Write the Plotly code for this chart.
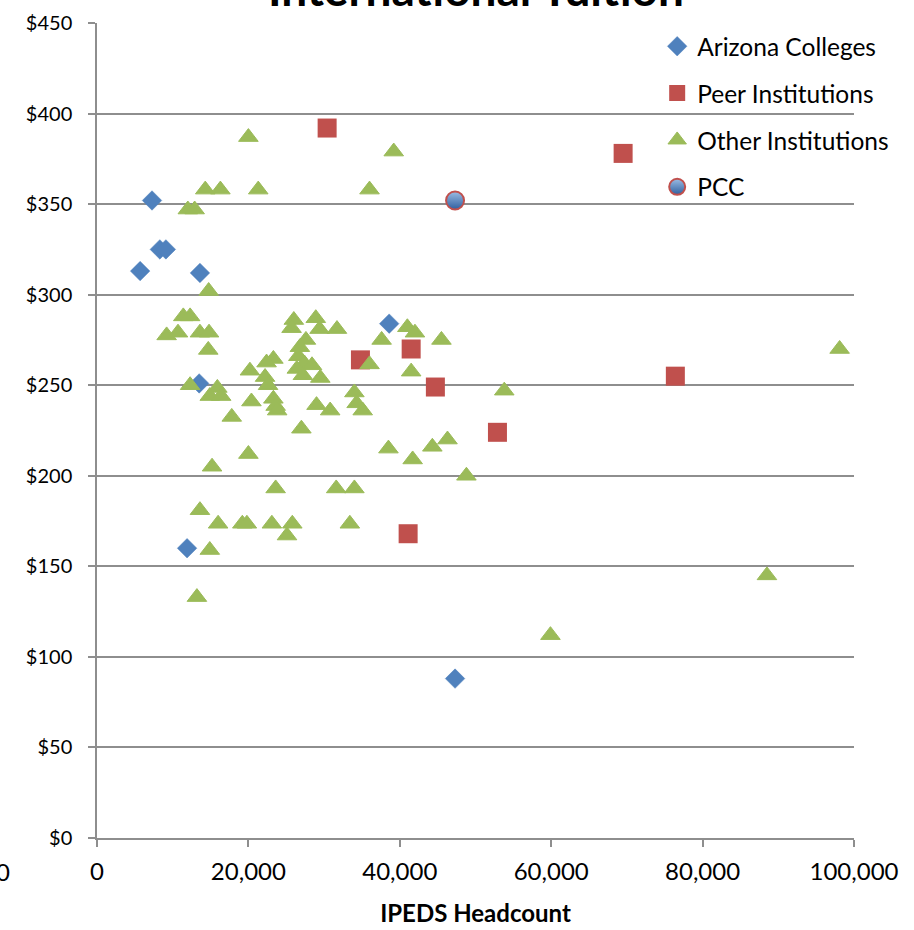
import plotly.graph_objects as go

# ---------------- data ----------------
az_x = [7270, 5700, 8300, 9100, 13600, 38600, 13500, 11900, 47300]
az_y = [352, 313, 325, 325, 312, 284, 251, 160, 88]

peer_x = [30400, 69500, 34800, 41500, 44700, 52900, 76400, 41100]
peer_y = [392, 378, 264, 270, 249, 224, 255, 168]

other_x = [20000, 39200, 14300, 16300, 21300, 36000, 12000, 12900, 14750, 11400,
           12300, 9200, 10700, 13600, 14800, 14700, 26000, 25700, 28900, 29400,
           31700, 27600, 26800, 26600, 27400, 28400, 29500, 26400, 27200, 23300,
           22400, 20200, 22200, 22600, 23300, 23600, 23800, 12300, 15900, 14900,
           16400, 20400, 17800, 27000, 20000, 15200, 23600, 31600, 34000, 13600,
           16000, 19200, 19800, 23100, 25800, 25100, 33400, 14900, 13200, 38500,
           37600, 36000, 34000, 34300, 35100, 29000, 30800, 41000, 42000, 45500,
           41500, 53800, 41700, 44300, 46300, 48800, 98100, 88500, 59900]
other_y = [387, 379, 358, 358, 358, 358, 347, 347, 302, 288,
           288, 277.5, 279, 279, 279, 269.5, 286, 281.5, 287, 281,
           281, 275, 271, 266, 262, 261, 254, 259, 255.5, 264.5,
           262.5, 258, 254.5, 250, 242.5, 238.5, 236, 250, 248.5, 244,
           244, 241, 232.5, 226, 212, 205, 193, 193, 193, 181,
           173.5, 173.5, 173.5, 173.5, 173.5, 167, 173.5, 159, 133, 215,
           275, 261.5, 246, 240, 236, 239, 236, 282, 279, 275,
           257.5, 247, 209, 216, 220, 200, 270, 145, 112]

pcc_x = [47300]
pcc_y = [352]

series_names = ["Arizona Colleges", "Peer Institutions", "Other Institutions", "PCC"]
chart_title = "International Tuition"
x_title = "IPEDS Headcount"
y_ticks = [0, 50, 100, 150, 200, 250, 300, 350, 400, 450]
y_ticktext = ["$" + str(v) for v in y_ticks]
x_ticks = [0, 20000, 40000, 60000, 80000, 100000]
x_ticktext = ["{:,}".format(v) for v in x_ticks]

# ---------------- styling ----------------
FONT = "Lato"
GRID = "#8e8e8e"
BLUE = "#4F81BD"
RED = "#C0504D"
GREEN = "#9BBB59"
XTICK_SIZE = 24
YTICK_SIZE = 20

fig = go.Figure()

fig.add_trace(go.Scatter(
    x=az_x, y=az_y, mode="markers", name=series_names[0], legendgroup="a",
    marker=dict(symbol="diamond", size=15, color=BLUE, line=dict(width=0.5, color=BLUE))))
fig.add_trace(go.Scatter(
    x=peer_x, y=peer_y, mode="markers", name=series_names[1], legendgroup="b",
    marker=dict(symbol="square", size=19, color=RED, line=dict(width=0))))
fig.add_trace(go.Scatter(
    x=other_x, y=other_y, mode="markers", name=series_names[2], legendgroup="c",
    marker=dict(symbol="triangle-up", size=17, color=GREEN, line=dict(width=1, color=GREEN))))
fig.add_trace(go.Scatter(
    x=pcc_x, y=pcc_y, mode="markers", name=series_names[3], legendgroup="d",
    marker=dict(symbol="circle", size=18, color="#9BBCE3",
                gradient=dict(type="vertical", color="#2F5F9F"),
                line=dict(width=2, color=RED))))

fig.update_layout(
    width=914, height=930, autosize=False,
    margin=dict(l=97, r=60, t=23, b=92, autoexpand=False),
    paper_bgcolor="white", plot_bgcolor="white",
    font=dict(family=FONT, size=XTICK_SIZE, color="#000000"),
    showlegend=True,
    legend=dict(x=0.740, y=0.999, xanchor="left", yanchor="top",
                bgcolor="rgba(0,0,0,0)", borderwidth=0,
                font=dict(family=FONT, size=24.5, color="#000000"),
                traceorder="grouped", tracegroupgap=12, itemsizing="trace"),
    annotations=[
        dict(text="<b>" + chart_title + "</b>", xref="paper", yref="paper",
             x=0.5, y=1.0, xanchor="center", yanchor="bottom", yshift=5,
             showarrow=False, font=dict(family=FONT, size=46, color="#000000")),
        dict(text="0", xref="paper", yref="paper", x=-0.1245, y=-0.0417,
             xanchor="center", yanchor="middle", showarrow=False,
             font=dict(family=FONT, size=XTICK_SIZE, color="#000000")),
    ],
)

fig.update_xaxes(
    range=[0, 100000], tickvals=x_ticks, ticktext=x_ticktext, automargin=False,
    showgrid=False, zeroline=False,
    showline=True, linecolor=GRID, linewidth=1.5,
    ticks="outside", ticklen=7, tickcolor=GRID, tickwidth=1.5,
    tickfont=dict(family=FONT, size=XTICK_SIZE), ticklabelstandoff=4,
    title=dict(text="<b>" + x_title + "</b>", font=dict(family=FONT, size=24), standoff=22),
)
fig.update_yaxes(
    range=[0, 450], tickvals=y_ticks, ticktext=y_ticktext, automargin=False,
    showgrid=True, gridcolor=GRID, gridwidth=1.5, zeroline=False,
    showline=True, linecolor=GRID, linewidth=1.5,
    ticks="outside", ticklen=7, tickcolor=GRID, tickwidth=1.5,
    tickfont=dict(family=FONT, size=YTICK_SIZE), ticklabelstandoff=12,
)

fig.write_html("out.html", config={"displayModeBar": False},
               post_script="document.body.style.margin='0';document.body.style.overflow='hidden';")
